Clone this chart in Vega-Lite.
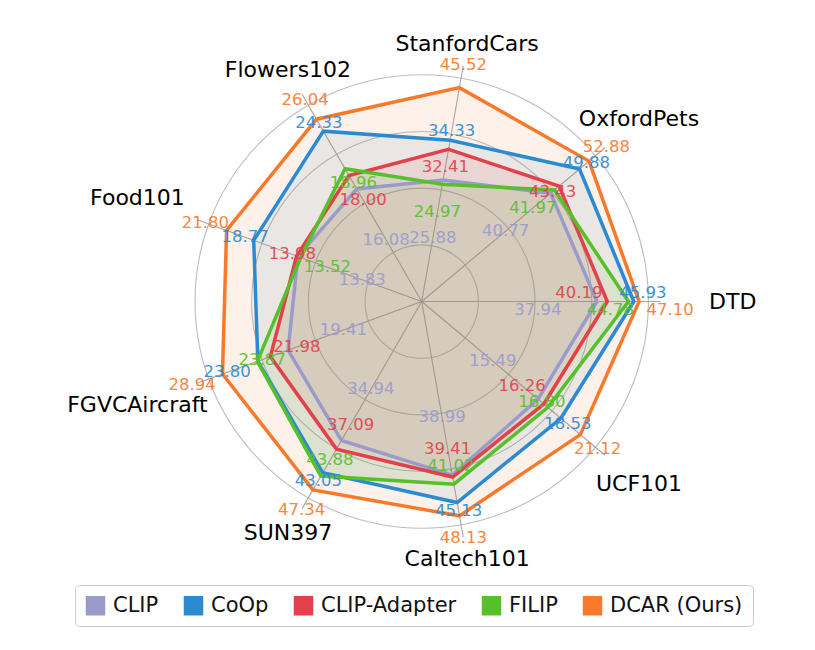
{
  "$schema": "https://vega.github.io/schema/vega-lite/v6.json",
  "width": 815,
  "height": 650,
  "autosize": {"type": "none"},
  "padding": 0,
  "background": "white",
  "config": {"view": {"stroke": null}, "font": "DejaVu Sans"},
  "datasets": {
    "scores": [
      {"method": "CLIP", "dataset": "DTD", "value": 37.94},
      {"method": "CLIP", "dataset": "OxfordPets", "value": 40.77},
      {"method": "CLIP", "dataset": "StanfordCars", "value": 25.88},
      {"method": "CLIP", "dataset": "Flowers102", "value": 16.08},
      {"method": "CLIP", "dataset": "Food101", "value": 13.83},
      {"method": "CLIP", "dataset": "FGVCAircraft", "value": 19.41},
      {"method": "CLIP", "dataset": "SUN397", "value": 34.94},
      {"method": "CLIP", "dataset": "Caltech101", "value": 38.99},
      {"method": "CLIP", "dataset": "UCF101", "value": 15.49},
      {"method": "CoOp", "dataset": "DTD", "value": 45.93},
      {"method": "CoOp", "dataset": "OxfordPets", "value": 49.88},
      {"method": "CoOp", "dataset": "StanfordCars", "value": 34.33},
      {"method": "CoOp", "dataset": "Flowers102", "value": 24.33},
      {"method": "CoOp", "dataset": "Food101", "value": 18.77},
      {"method": "CoOp", "dataset": "FGVCAircraft", "value": 23.80},
      {"method": "CoOp", "dataset": "SUN397", "value": 43.05},
      {"method": "CoOp", "dataset": "Caltech101", "value": 45.13},
      {"method": "CoOp", "dataset": "UCF101", "value": 18.53},
      {"method": "CLIP-Adapter", "dataset": "DTD", "value": 40.19},
      {"method": "CLIP-Adapter", "dataset": "OxfordPets", "value": 43.43},
      {"method": "CLIP-Adapter", "dataset": "StanfordCars", "value": 32.41},
      {"method": "CLIP-Adapter", "dataset": "Flowers102", "value": 18.00},
      {"method": "CLIP-Adapter", "dataset": "Food101", "value": 13.98},
      {"method": "CLIP-Adapter", "dataset": "FGVCAircraft", "value": 21.98},
      {"method": "CLIP-Adapter", "dataset": "SUN397", "value": 37.09},
      {"method": "CLIP-Adapter", "dataset": "Caltech101", "value": 39.41},
      {"method": "CLIP-Adapter", "dataset": "UCF101", "value": 16.26},
      {"method": "FILIP", "dataset": "DTD", "value": 44.78},
      {"method": "FILIP", "dataset": "OxfordPets", "value": 41.97},
      {"method": "FILIP", "dataset": "StanfordCars", "value": 24.97},
      {"method": "FILIP", "dataset": "Flowers102", "value": 18.96},
      {"method": "FILIP", "dataset": "Food101", "value": 13.52},
      {"method": "FILIP", "dataset": "FGVCAircraft", "value": 23.87},
      {"method": "FILIP", "dataset": "SUN397", "value": 43.88},
      {"method": "FILIP", "dataset": "Caltech101", "value": 41.02},
      {"method": "FILIP", "dataset": "UCF101", "value": 16.80},
      {"method": "DCAR (Ours)", "dataset": "DTD", "value": 47.10},
      {"method": "DCAR (Ours)", "dataset": "OxfordPets", "value": 52.88},
      {"method": "DCAR (Ours)", "dataset": "StanfordCars", "value": 45.52},
      {"method": "DCAR (Ours)", "dataset": "Flowers102", "value": 26.04},
      {"method": "DCAR (Ours)", "dataset": "Food101", "value": 21.80},
      {"method": "DCAR (Ours)", "dataset": "FGVCAircraft", "value": 28.94},
      {"method": "DCAR (Ours)", "dataset": "SUN397", "value": 47.34},
      {"method": "DCAR (Ours)", "dataset": "Caltech101", "value": 48.13},
      {"method": "DCAR (Ours)", "dataset": "UCF101", "value": 21.12}
    ],
    "rings": [{"level": 0.25}, {"level": 0.5}, {"level": 0.75}, {"level": 1.0}],
    "benchmarks": [
      {"dataset": "DTD"}, {"dataset": "OxfordPets"}, {"dataset": "StanfordCars"},
      {"dataset": "Flowers102"}, {"dataset": "Food101"}, {"dataset": "FGVCAircraft"},
      {"dataset": "SUN397"}, {"dataset": "Caltech101"}, {"dataset": "UCF101"}
    ]
  },
  "layer": [
    {
      "data": {"name": "rings"},
      "transform": [
        {"calculate": "0", "as": "cx"},
        {"calculate": "pow(2 * datum.level * 226.7, 2)", "as": "sz"}
      ],
      "mark": {"type": "point", "shape": "circle", "filled": false, "stroke": "#bdbdbd", "strokeWidth": 1.1, "opacity": 1},
      "encoding": {
        "x": {"field": "cx", "type": "quantitative", "scale": {"domain": [-1.8602, 1.7349], "nice": false, "zero": false}, "axis": null},
        "y": {"field": "cx", "type": "quantitative", "scale": {"domain": [-1.5373, 1.33], "nice": false, "zero": false}, "axis": null},
        "size": {"field": "sz", "type": "quantitative", "scale": null, "legend": null}
      }
    },
    {
      "data": {"name": "benchmarks"},
      "transform": [
        {"calculate": "indexof(['DTD','OxfordPets','StanfordCars','Flowers102','Food101','FGVCAircraft','SUN397','Caltech101','UCF101'], datum.dataset) * 2 * PI / 9", "as": "ang"},
        {"calculate": "0", "as": "o"},
        {"calculate": "1.055 * cos(datum.ang)", "as": "ex"},
        {"calculate": "1.055 * sin(datum.ang)", "as": "ey"}
      ],
      "mark": {"type": "rule", "stroke": "#a8a8a8", "strokeWidth": 1.1},
      "encoding": {
        "x": {"field": "o", "type": "quantitative", "scale": {"domain": [-1.8602, 1.7349], "nice": false, "zero": false}, "axis": null},
        "y": {"field": "o", "type": "quantitative", "scale": {"domain": [-1.5373, 1.33], "nice": false, "zero": false}, "axis": null},
        "x2": {"field": "ex"},
        "y2": {"field": "ey"}
      }
    },
    {
      "data": {"name": "scores"},
      "transform": [
        {"calculate": "indexof(['DTD','OxfordPets','StanfordCars','Flowers102','Food101','FGVCAircraft','SUN397','Caltech101','UCF101'], datum.dataset)", "as": "idx"},
        {"calculate": "datum.idx * 2 * PI / 9", "as": "ang"},
        {"calculate": "datum.method === 'CLIP' ? datum.value : null", "as": "vC"},
        {"calculate": "datum.method === 'CoOp' ? datum.value : null", "as": "vO"},
        {"calculate": "datum.method === 'CLIP-Adapter' ? datum.value : null", "as": "vA"},
        {"calculate": "datum.method === 'FILIP' ? datum.value : null", "as": "vF"},
        {"calculate": "datum.method === 'DCAR (Ours)' ? datum.value : null", "as": "vD"},
        {"joinaggregate": [
          {"op": "max", "field": "value", "as": "vmax"},
          {"op": "max", "field": "vC", "as": "mC"},
          {"op": "max", "field": "vO", "as": "mO"},
          {"op": "max", "field": "vA", "as": "mA"},
          {"op": "max", "field": "vF", "as": "mF"},
          {"op": "max", "field": "vD", "as": "mD"}
        ], "groupby": ["dataset"]},
        {"calculate": "datum.vmax + 2", "as": "den"},
        {"calculate": "datum.value / datum.den", "as": "r"},
        {"calculate": "datum.r * cos(datum.ang)", "as": "px"},
        {"calculate": "datum.r * sin(datum.ang)", "as": "py"},
        {"calculate": "datum.dataset === 'DTD' ? 0.12 : (min(34 / max(abs(cos(datum.ang)), 0.001), 16 / max(abs(sin(datum.ang)), 0.001)) + 1) / 226.7", "as": "g"},
        {"calculate": "min(datum.mA, datum.mF) / datum.den - 0.125", "as": "lowR"},
        {"calculate": "max(max(datum.mA, datum.mF) / datum.den - 0.08, datum.lowR + datum.g)", "as": "upR"},
        {"calculate": "max(datum.mO / datum.den + 0.04, datum.upR + datum.g)", "as": "lO"},
        {"calculate": "max(datum.mD / datum.den + 0.10, datum.lO + datum.g)", "as": "lD"},
        {"calculate": "min(datum.mC / datum.den - 0.26, datum.lowR - datum.g)", "as": "lC"},
        {"calculate": "datum.method === 'CLIP' ? datum.lC : datum.method === 'CoOp' ? datum.lO : datum.method === 'DCAR (Ours)' ? datum.lD : datum.method === 'CLIP-Adapter' ? (datum.mA <= datum.mF ? datum.lowR : datum.upR) : (datum.mF < datum.mA ? datum.lowR : datum.upR)", "as": "lr"},
        {"calculate": "datum.dataset === 'DTD' ? ((datum.method === 'CLIP-Adapter' || datum.method === 'CoOp') ? 0.0397 : -0.0353) : 0", "as": "shift"},
        {"calculate": "datum.lr * cos(datum.ang)", "as": "lx"},
        {"calculate": "datum.lr * sin(datum.ang) + datum.shift", "as": "ly"}
      ],
      "layer": [
        {
          "mark": {"type": "line", "interpolate": "linear-closed", "filled": true, "fillOpacity": 0.1, "strokeWidth": 0},
          "encoding": {
            "x": {"field": "px", "type": "quantitative", "scale": {"domain": [-1.8602, 1.7349], "nice": false, "zero": false}, "axis": null},
            "y": {"field": "py", "type": "quantitative", "scale": {"domain": [-1.5373, 1.33], "nice": false, "zero": false}, "axis": null},
            "order": {"field": "idx", "type": "quantitative"},
            "color": {"field": "method", "type": "nominal", "scale": {"domain": ["CLIP", "CoOp", "CLIP-Adapter", "FILIP", "DCAR (Ours)"], "range": ["#9b9bcb", "#2b8ad0", "#e2414b", "#55c02a", "#f8792a"]}}
          }
        },
        {
          "mark": {"type": "line", "interpolate": "linear-closed", "strokeWidth": 3.5, "strokeJoin": "miter"},
          "encoding": {
            "x": {"field": "px", "type": "quantitative", "scale": {"domain": [-1.8602, 1.7349], "nice": false, "zero": false}, "axis": null},
            "y": {"field": "py", "type": "quantitative", "scale": {"domain": [-1.5373, 1.33], "nice": false, "zero": false}, "axis": null},
            "order": {"field": "idx", "type": "quantitative"},
            "color": {
              "field": "method", "type": "nominal",
              "scale": {"domain": ["CLIP", "CoOp", "CLIP-Adapter", "FILIP", "DCAR (Ours)"], "range": ["#9b9bcb", "#2b8ad0", "#e2414b", "#55c02a", "#f8792a"]},
              "legend": {
                "orient": "none", "legendX": 75, "legendY": 585, "direction": "horizontal", "title": null,
                "symbolType": "square", "symbolSize": 380, "symbolStrokeWidth": 0,
                "labelFontSize": 21, "labelFont": "DejaVu Sans", "labelColor": "#111111", "labelOffset": 7,
                "columnPadding": 24, "padding": 10, "fillColor": "white", "strokeColor": "#cccccc", "cornerRadius": 4,
                "encode": {"symbols": {"update": {"fill": {"scale": "color", "field": "value"}, "stroke": {"value": "transparent"}, "fillOpacity": {"value": 1}, "opacity": {"value": 1}}}}
              }
            }
          }
        },
        {
          "mark": {"type": "text", "fontSize": 16.5, "font": "DejaVu Sans", "align": "center", "baseline": "middle", "opacity": 0.9},
          "encoding": {
            "x": {"field": "lx", "type": "quantitative", "scale": {"domain": [-1.8602, 1.7349], "nice": false, "zero": false}, "axis": null},
            "y": {"field": "ly", "type": "quantitative", "scale": {"domain": [-1.5373, 1.33], "nice": false, "zero": false}, "axis": null},
            "text": {"field": "value", "type": "quantitative", "format": ".2f"},
            "color": {"field": "method", "type": "nominal", "scale": {"domain": ["CLIP", "CoOp", "CLIP-Adapter", "FILIP", "DCAR (Ours)"], "range": ["#9b9bcb", "#2b8ad0", "#e2414b", "#55c02a", "#f8792a"]}}
          }
        }
      ]
    },
    {
      "data": {"name": "benchmarks"},
      "transform": [
        {"calculate": "indexof(['DTD','OxfordPets','StanfordCars','Flowers102','Food101','FGVCAircraft','SUN397','Caltech101','UCF101'], datum.dataset) * 2 * PI / 9", "as": "ang"},
        {"calculate": "1.1526 + 0.2192 * pow(abs(cos(datum.ang)), 3)", "as": "rr"},
        {"calculate": "datum.rr * cos(datum.ang)", "as": "tx"},
        {"calculate": "datum.rr * sin(datum.ang)", "as": "ty"}
      ],
      "mark": {"type": "text", "fontSize": 22, "font": "DejaVu Sans", "color": "black", "align": "center", "baseline": "middle"},
      "encoding": {
        "x": {"field": "tx", "type": "quantitative", "scale": {"domain": [-1.8602, 1.7349], "nice": false, "zero": false}, "axis": null},
        "y": {"field": "ty", "type": "quantitative", "scale": {"domain": [-1.5373, 1.33], "nice": false, "zero": false}, "axis": null},
        "text": {"field": "dataset", "type": "nominal"}
      }
    }
  ]
}
